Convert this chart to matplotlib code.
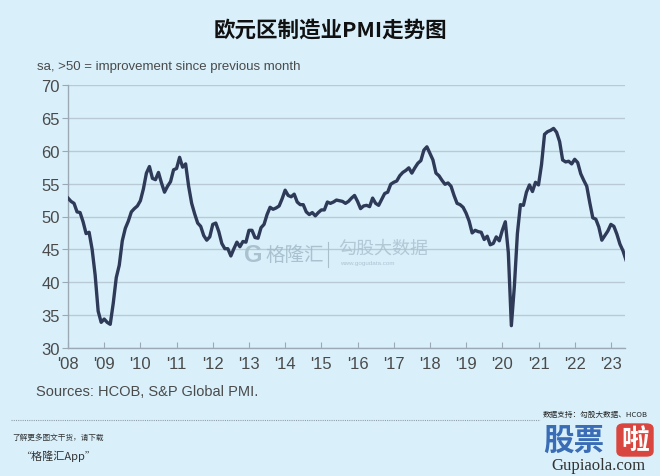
import numpy as np
import matplotlib
matplotlib.use("Agg")
import matplotlib.pyplot as plt
from matplotlib.patches import FancyBboxPatch

# Eurozone manufacturing PMI, monthly, Jan 2008 - Jun 2023
pmi_2008 = [52.8, 52.3, 52.0, 50.7, 50.6, 49.2, 47.4, 47.6, 45.0, 41.1, 35.6, 33.9]
pmi_2009 = [34.4, 33.9, 33.6, 36.8, 40.7, 42.6, 46.3, 48.2, 49.3, 50.7, 51.2, 51.6]
pmi_2010 = [52.4, 54.2, 56.6, 57.6, 55.8, 55.6, 56.7, 55.1, 53.7, 54.6, 55.3, 57.1]
pmi_2011 = [57.3, 59.0, 57.5, 58.0, 54.6, 52.0, 50.4, 49.0, 48.5, 47.1, 46.4, 46.9]
pmi_2012 = [48.8, 49.0, 47.7, 45.9, 45.1, 45.1, 44.0, 45.1, 46.1, 45.4, 46.2, 46.1]
pmi_2013 = [47.9, 47.9, 46.8, 46.7, 48.3, 48.8, 50.3, 51.4, 51.1, 51.3, 51.6, 52.7]
pmi_2014 = [54.0, 53.2, 53.0, 53.4, 52.2, 51.8, 51.8, 50.7, 50.3, 50.6, 50.1, 50.6]
pmi_2015 = [51.0, 51.0, 52.2, 52.0, 52.2, 52.5, 52.4, 52.3, 52.0, 52.3, 52.8, 53.2]
pmi_2016 = [52.3, 51.2, 51.6, 51.7, 51.5, 52.8, 52.0, 51.7, 52.6, 53.5, 53.7, 54.9]
pmi_2017 = [55.2, 55.4, 56.2, 56.7, 57.0, 57.4, 56.6, 57.4, 58.1, 58.5, 60.1, 60.6]
pmi_2018 = [59.6, 58.6, 56.6, 56.2, 55.5, 54.9, 55.1, 54.6, 53.2, 52.0, 51.8, 51.4]
pmi_2019 = [50.5, 49.3, 47.5, 47.9, 47.7, 47.6, 46.5, 47.0, 45.7, 45.9, 46.9, 46.3]
pmi_2020 = [47.9, 49.2, 44.5, 33.4, 39.4, 47.4, 51.8, 51.7, 53.7, 54.8, 53.8, 55.2]
pmi_2021 = [54.8, 57.9, 62.5, 62.9, 63.1, 63.4, 62.8, 61.4, 58.6, 58.3, 58.4, 58.0]
pmi_2022 = [58.7, 58.2, 56.5, 55.5, 54.6, 52.1, 49.8, 49.6, 48.4, 46.4, 47.1, 47.8]
pmi_2023 = [48.8, 48.5, 47.3, 45.8, 44.8, 43.4]

pmi_values = (pmi_2008 + pmi_2009 + pmi_2010 + pmi_2011 + pmi_2012 + pmi_2013 +
              pmi_2014 + pmi_2015 + pmi_2016 + pmi_2017 + pmi_2018 + pmi_2019 +
              pmi_2020 + pmi_2021 + pmi_2022 + pmi_2023)
start_year = 2008
x_years = [start_year + i / 12 for i in range(len(pmi_values))]

y_ticks = [30, 35, 40, 45, 50, 55, 60, 65, 70]
x_tick_years = list(range(2008, 2024))
x_tick_labels = ["'%02d" % (y % 100) for y in x_tick_years]

title = "欧元区制造业PMI走势图"
subtitle = "sa, >50 = improvement since previous month"
source = "Sources: HCOB, S&P Global PMI."

BG = "#d9f0fb"
LINE = "#2e3a57"
GRID = "#b9cad6"
TXT = "#4a4a4a"

plt.rcParams['font.family'] = ['Liberation Sans', 'DejaVu Sans']
fig = plt.figure(figsize=(6.6, 4.77), dpi=100, facecolor=BG)
ax = fig.add_axes([68/660, 1-349/477, (625-68)/660, (349-86)/477])
ax.set_facecolor(BG)

ax.plot(x_years, pmi_values, color=LINE, lw=2.4, solid_joinstyle='round', zorder=3)

ax.set_xlim(2008, 2023.39)
ax.set_ylim(30, 70)
ax.set_yticks(y_ticks)
ax.set_yticklabels([str(v) for v in y_ticks])
ax.set_xticks(x_tick_years)
ax.set_xticklabels(x_tick_labels)
ax.yaxis.grid(True, color=GRID, lw=1.0)
ax.set_axisbelow(True)
for s in ['top', 'right']:
    ax.spines[s].set_visible(False)
for s in ['left', 'bottom']:
    ax.spines[s].set_color("#9aa9b4")
    ax.spines[s].set_linewidth(1.0)
ax.tick_params(axis='y', direction='out', length=4, color="#9aa9b4",
               labelsize=12, labelcolor=TXT, pad=2)
ax.tick_params(axis='x', direction='in', length=4, color="#9aa9b4",
               labelsize=12, labelcolor=TXT, pad=6)

cjk = ['Noto Sans CJK SC', 'DejaVu Sans']
fig.text(0.5, 1-30/477, title, ha='center', va='center', fontsize=15.5,
         family=cjk, weight='bold', color='#111111')
fig.text(37/660, 1-67/477, subtitle, ha='left', va='center', fontsize=9.5, color=TXT)
fig.text(36/660, 1-392/477, source, ha='left', va='center', fontsize=10.5, color=TXT)

# watermarks
fig.text(265/660, 1-255/477, "格隆汇", ha='left', va='center', fontsize=14,
         family=cjk, color="#9fb6c4", alpha=0.8)
fig.text(244/660, 1-255/477, "G", ha='left', va='center', fontsize=17,
         weight='bold', color="#9fb6c4", alpha=0.8)
fig.add_artist(plt.Line2D([328/660, 328/660], [1-243/477, 1-268/477],
                          color="#a9bfcc", lw=0.8))
fig.text(338/660, 1-249/477, "勾股大数据", ha='left', va='center', fontsize=13,
         family=cjk, color="#a9bfcc", alpha=0.8)
fig.text(340/660, 1-264/477, "www.gogudata.com", ha='left', va='center', fontsize=4.5,
         color="#a9bfcc", alpha=0.9)

# footer
fig.add_artist(plt.Line2D([11/660, 540/660], [1-421/477, 1-421/477],
                          color="#8f9ea8", lw=0.8, ls=(0, (1, 1))))
fig.text(12/660, 1-438/477, "了解更多图文干货，请下载", ha='left', va='center',
         fontsize=5.5, family=cjk, style='italic', color="#333333")
fig.text(20/660, 1-456/477, "“格隆汇App”", ha='left', va='center',
         fontsize=8, family=cjk, style='italic', color="#333333")
fig.text(543/660, 1-415/477, "数据支持：勾股大数据、HCOB", ha='left', va='center',
         fontsize=5.5, family=cjk, color="#222222")
fig.text(543/660, 1-441/477, "股票", ha='left', va='center', fontsize=22,
         family=cjk, weight='bold', color="#3a6db5")
fig.add_artist(FancyBboxPatch((617/660, 1-457/477), 36/660, 32/477,
                              boxstyle="round,pad=0,rounding_size=0.01",
                              transform=fig.transFigure, color="#d9463f"))
fig.text(635/660, 1-441/477, "啦", ha='center', va='center', fontsize=20,
         family=cjk, weight='bold', color="white")
fig.text(598/660, 1-466/477, "Gupiaola.com", ha='center', va='center', fontsize=12,
         family=['Liberation Serif', 'DejaVu Serif'], color="#333333")

fig.savefig("out.png", dpi=100, facecolor=BG)
